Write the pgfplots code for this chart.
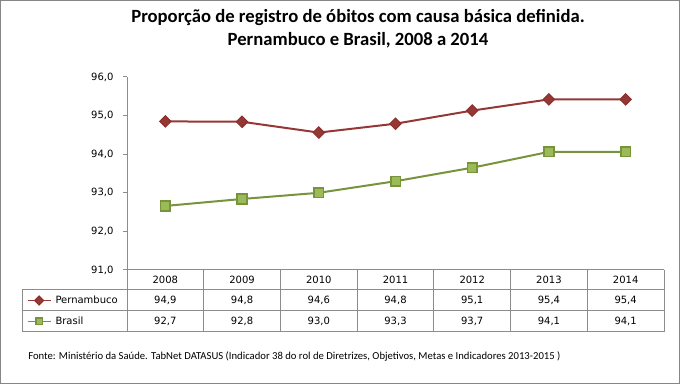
\documentclass[border=0pt]{standalone}
\usepackage{pgfplots}
\pgfplotsset{compat=1.18}
\usepackage{fontspec}
\setmainfont{Carlito}
\newfontfamily\dv{DejaVu Sans}
\definecolor{pe}{HTML}{953735}
\definecolor{ped}{HTML}{8B2F2D}
\definecolor{brl}{HTML}{77933C}
\definecolor{brf}{HTML}{9BBB59}
\definecolor{frame}{HTML}{868686}
\definecolor{tbl}{HTML}{8C8C8C}
\begin{document}
\begin{tikzpicture}
\begin{axis}[
  at={(95.25pt,85.5pt)}, anchor=south west,
  scale only axis, width=402.75pt, height=144.75pt,
  xmin=0, xmax=7, ymin=91, ymax=96,
  ytick={91,92,...,96}, xtick=\empty,
  axis x line=none, axis y line*=left,
  axis line style={tbl, line width=0.75pt},
  tick align=outside, major tick length=3pt,
  tick style={tbl, line width=0.75pt},
  clip=false,
  /pgf/number format/assume math mode=true,
  yticklabel style={font=\dv\fontsize{7.5}{9}\selectfont, xshift=-3.6pt,
    /pgf/number format/.cd, fixed, fixed zerofill, precision=1, use comma},
  legend style={at={(rel axis cs:-0.1862,-0.1321)}, anchor=north west,
    draw=none, fill=none, inner sep=0pt, outer sep=0pt,
    row sep=8.25pt, column sep=3.2pt,
    font=\dv\fontsize{7.5}{9}\selectfont,
    nodes={inner sep=0pt, text height=6pt, text depth=1.5pt}},
  legend cell align=left,
  legend image post style={mark size=2.4pt, line width=1.1pt},
]
\addplot[pe, line width=1.5pt, mark=square*, mark size=3.0pt,
  mark options={rotate=45, fill=pe, draw=ped, line width=0.8pt}]
  coordinates {(0.5,94.85)(1.5,94.84)(2.5,94.56)(3.5,94.79)(4.5,95.13)(5.5,95.42)(6.5,95.42)};
\addlegendentry{Pernambuco}
\addplot[brl, line width=1.5pt, mark=square*, mark size=3.6pt,
  mark options={fill=brf, draw=brl, line width=1.2pt}]
  coordinates {(0.5,92.66)(1.5,92.84)(2.5,93.0)(3.5,93.3)(4.5,93.65)(5.5,94.06)(6.5,94.06)};
\addlegendentry{Brasil}
\end{axis}
\begin{scope}[x=0.75pt,y=-0.75pt,yshift=288pt]
\draw[frame, line width=0.9pt] (0.6,0.6) rectangle (679.4,383.4);
\node[font=\fontsize{14}{17.25}\selectfont\bfseries, align=center] at (358,29)
  {Proporção de registro de óbitos com causa básica definida.\\Pernambuco e Brasil, 2008 a 2014};
% data table
\begin{scope}[tbl, line width=0.75pt]
\draw (127,270) -- (664,270);
\draw (22,290) -- (664,290);
\draw (22,311) -- (664,311);
\draw (22,332) -- (664,332);
\draw (22,290) -- (22,332);
\foreach \i in {0,...,7} {\draw ({127+\i*76.714},270) -- ({127+\i*76.714},332);}
\end{scope}
\begin{scope}[every node/.style={font=\dv\fontsize{7.5}{9}\selectfont, text=black}]
\foreach \y [count=\i from 0] in {2008,2009,2010,2011,2012,2013,2014}
  {\node at ({165.36+\i*76.714},280) {\y};}
\node at (165.36,300.5) {94,9};
\node at (242.07,300.5) {94,8};
\node at (318.79,300.5) {94,6};
\node at (395.50,300.5) {94,8};
\node at (472.21,300.5) {95,1};
\node at (548.93,300.5) {95,4};
\node at (625.64,300.5) {95,4};
\node at (165.36,321.5) {92,7};
\node at (242.07,321.5) {92,8};
\node at (318.79,321.5) {93,0};
\node at (395.50,321.5) {93,3};
\node at (472.21,321.5) {93,7};
\node at (548.93,321.5) {94,1};
\node at (625.64,321.5) {94,1};
\end{scope}
\node[anchor=west, inner sep=0pt, font=\fontsize{8}{9}\selectfont] at (28,357)
  {Fonte: Ministério da Saúde. TabNet DATASUS (Indicador 38 do rol de Diretrizes, Objetivos, Metas e Indicadores 2013-2015 )};
\end{scope}
\end{tikzpicture}
\end{document}
